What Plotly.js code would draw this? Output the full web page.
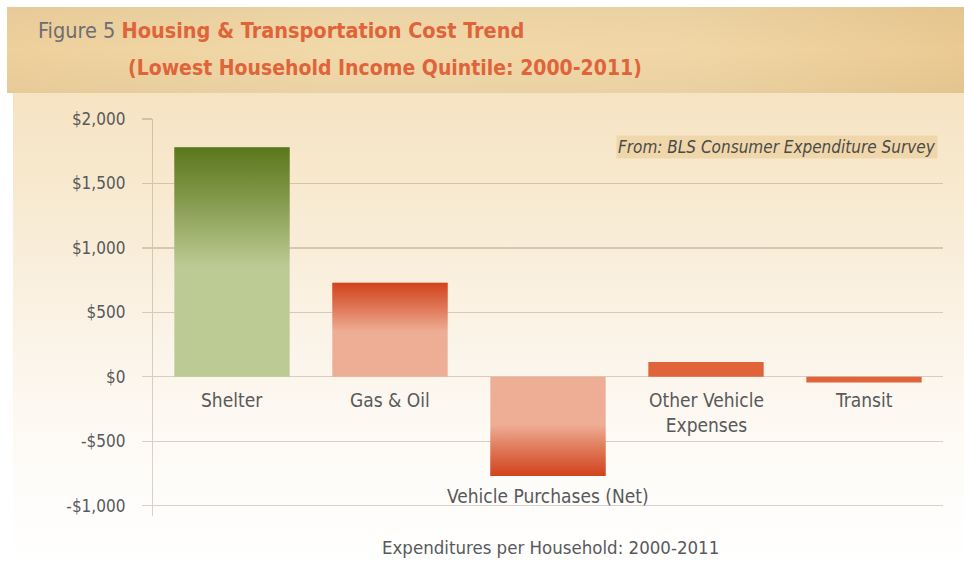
<!DOCTYPE html>
<html>
<head>
<meta charset="utf-8">
<script src="https://cdn.plot.ly/plotly-3.0.1.min.js"></script>
<style>html,body{margin:0;padding:0;background:#fff;}#chart{width:964px;height:571px;}</style>
</head>
<body>
<div id="chart"></div>
<script>
// ---- data ----
const categories = ["Shelter", "Gas & Oil", "Vehicle Purchases (Net)", "Other Vehicle Expenses", "Transit"];
const categoryLabels = ["Shelter", "Gas &amp; Oil", "Vehicle Purchases (Net)", "Other Vehicle<br>Expenses", "Transit"];
const values = [1780, 730, -770, 115, -45];
const yTickVals = [2000, 1500, 1000, 500, 0, -500, -1000];
const yTickText = ["$2,000", "$1,500", "$1,000", "$500", "$0", "-$500", "-$1,000"];

// ---- style ----
const W = 964, H = 571;
const M = {l: 153, r: 21, t: 119, b: 55};
const plotW = W - M.l - M.r, plotH = H - M.t - M.b;
const px2x = px => (px - M.l) / plotW;
const py2y = py => 1 - (py - M.t) / plotH;
const FONT = "'Liberation Sans Narrow', 'DejaVu Sans Condensed', 'Roboto Condensed', Roboto, sans-serif";
const BAR_W = 0.73;
const lightColors = ["#bccb93", "#eeae95", "#eeae95", "#e0633a", "#e0633a"];
const darkColors  = ["#5b771b", "#d2431d", "#d2431d", null, null];

const xs = categories.map((c, i) => i);

const traces = [{
  type: "bar",
  x: xs,
  y: values,
  width: BAR_W,
  marker: {color: lightColors, line: {width: 0}},
  hovertext: categories,
  hoverinfo: "text+y",
  showlegend: false
}];

// gradient overlays (dark at outer end of each bar)
values.forEach((v, i) => {
  if (!darkColors[i]) return;
  const h = BAR_W / 2;
  const dark = darkColors[i];
  const rgb = dark.match(/\w\w/g).map(s => parseInt(s, 16)).join(",");
  traces.push({
    type: "scatter",
    mode: "lines",
    x: [i - h, i + h, i + h, i - h, i - h],
    y: [0, 0, v, v, 0],
    fill: "toself",
    line: {width: 0, color: "rgba(0,0,0,0)"},
    fillgradient: {
      type: "vertical",
      start: 0,
      stop: v,
      colorscale: [[0, `rgba(${rgb},0)`], [0.48, `rgba(${rgb},0)`], [0.75, `rgba(${rgb},0.55)`], [1, `rgba(${rgb},1)`]]
    },
    hoverinfo: "skip",
    showlegend: false
  });
});

// background (parchment) as an svg image
const bgSvg = `<svg xmlns="http://www.w3.org/2000/svg" width="${W}" height="${H}">
<defs>
<linearGradient id="hd" x1="0" y1="0" x2="1" y2="0">
<stop offset="0" stop-color="#eed09c"/><stop offset="0.35" stop-color="#f2d9aa"/>
<stop offset="0.7" stop-color="#f1d7a7"/><stop offset="1" stop-color="#ebca92"/></linearGradient>
<linearGradient id="hv" x1="0" y1="0" x2="0" y2="1">
<stop offset="0" stop-color="#000" stop-opacity="0.03"/><stop offset="0.5" stop-color="#000" stop-opacity="0"/>
<stop offset="1" stop-color="#000" stop-opacity="0.03"/></linearGradient>
<linearGradient id="bd" x1="0" y1="0" x2="0" y2="1">
<stop offset="0" stop-color="#f6e3c2"/><stop offset="0.25" stop-color="#f8ebd3"/>
<stop offset="0.5" stop-color="#fbf3e7"/><stop offset="0.8" stop-color="#fefcf9"/><stop offset="1" stop-color="#ffffff"/></linearGradient>
</defs>
<rect x="13" y="93" width="${W-13}" height="${H-93}" fill="url(#bd)"/>
<rect x="7" y="7" width="${W-7}" height="86" fill="url(#hd)"/>
<rect x="7" y="7" width="${W-7}" height="86" fill="url(#hv)"/>
</svg>`;
const bgSrc = "data:image/svg+xml;charset=utf-8," + encodeURIComponent(bgSvg);

const gridColor = "rgba(125,100,65,0.28)";

const annotations = [
  {text: "Figure 5 <b><span style='color:#e0643a'>Housing &amp; Transportation Cost Trend</span></b>",
   xref: "paper", yref: "paper", x: px2x(36), y: py2y(31), xanchor: "left", yanchor: "middle",
   showarrow: false, font: {family: FONT, size: 21.5, color: "#6d6e71"}},
  {text: "<b>(Lowest Household Income Quintile: 2000-2011)</b>",
   xref: "paper", yref: "paper", x: px2x(126), y: py2y(68), xanchor: "left", yanchor: "middle",
   showarrow: false, font: {family: FONT, size: 21, color: "#e0643a"}},
  {text: "<i>From: BLS Consumer Expenditure Survey</i>",
   xref: "paper", yref: "paper", x: px2x(938), y: py2y(147), xanchor: "right", yanchor: "middle",
   showarrow: false, bgcolor: "#efd7ab", borderpad: 1,
   font: {family: FONT, size: 17, color: "#4b4a47"}},
  {text: "Expenditures per Household: 2000-2011",
   xref: "paper", yref: "paper", x: px2x(550), y: py2y(547), xanchor: "center", yanchor: "middle",
   showarrow: false, font: {family: FONT, size: 18.5, color: "#58595b"}}
];

categoryLabels.forEach((lab, i) => {
  const v = values[i];
  const below = v < -200;
  annotations.push({
    text: lab, x: i, y: below ? v : 0, xref: "x", yref: "y",
    xanchor: "center", yanchor: "top", yshift: below ? -7 : -10,
    showarrow: false, align: "center",
    font: {family: FONT, size: 19, color: "#58595b"}
  });
});

const layout = {
  width: W, height: H,
  margin: M,
  paper_bgcolor: "#ffffff",
  plot_bgcolor: "rgba(0,0,0,0)",
  showlegend: false,
  bargap: 0.27,
  xaxis: {
    range: [-0.5, 4.5], showgrid: false, zeroline: false, showticklabels: false,
    ticks: "", showline: false, fixedrange: true
  },
  yaxis: {
    range: [-1080, 2000], tickvals: yTickVals, ticktext: yTickText,
    showgrid: true, gridcolor: gridColor, gridwidth: 1.2,
    zeroline: true, zerolinecolor: gridColor, zerolinewidth: 1.2,
    showline: true, linecolor: gridColor, linewidth: 1.2,
    ticks: "outside", ticklen: 10, tickcolor: gridColor, tickwidth: 1.2,
    ticklabelstandoff: 13,
    tickfont: {family: FONT, size: 17, color: "#58595b"},
    fixedrange: true
  },
  images: [{
    source: bgSrc, xref: "paper", yref: "paper",
    x: px2x(0), y: py2y(0), sizex: W / plotW, sizey: H / plotH,
    xanchor: "left", yanchor: "top", sizing: "stretch", layer: "below"
  }],
  annotations: annotations
};

Plotly.newPlot("chart", traces, layout, {displayModeBar: false, staticPlot: true});
</script>
</body>
</html>
